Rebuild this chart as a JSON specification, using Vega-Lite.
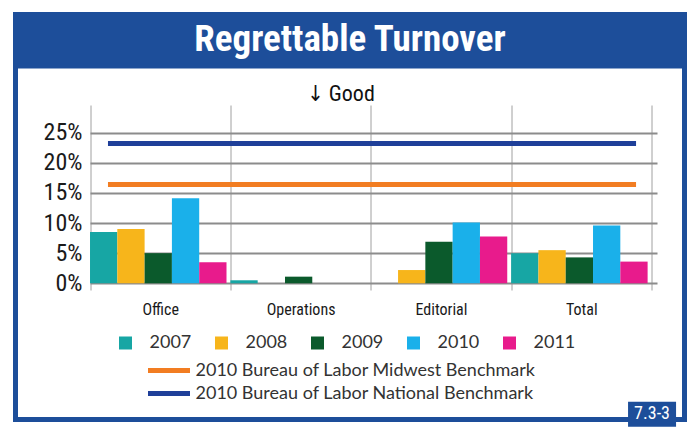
{
  "$schema": "https://vega.github.io/schema/vega-lite/v6.json",
  "background": "white",
  "padding": {"left": 13, "top": 12, "right": 0, "bottom": 0},
  "spacing": 0,
  "bounds": "flush",
  "center": true,
  "config": {"view": {"stroke": null}, "font": "Roboto Condensed, Liberation Sans Narrow, DejaVu Sans Condensed, Liberation Sans, sans-serif"},
  "datasets": {
    "bars": [
      {"category": "Office", "year": "2007", "value": 8.5},
      {"category": "Office", "year": "2008", "value": 9.0},
      {"category": "Office", "year": "2009", "value": 5.0},
      {"category": "Office", "year": "2010", "value": 14.1},
      {"category": "Office", "year": "2011", "value": 3.5},
      {"category": "Operations", "year": "2007", "value": 0.5},
      {"category": "Operations", "year": "2009", "value": 1.1},
      {"category": "Editorial", "year": "2008", "value": 2.2},
      {"category": "Editorial", "year": "2009", "value": 6.9},
      {"category": "Editorial", "year": "2010", "value": 10.1},
      {"category": "Editorial", "year": "2011", "value": 7.75},
      {"category": "Total", "year": "2007", "value": 5.0},
      {"category": "Total", "year": "2008", "value": 5.5},
      {"category": "Total", "year": "2009", "value": 4.3},
      {"category": "Total", "year": "2010", "value": 9.6},
      {"category": "Total", "year": "2011", "value": 3.6}
    ],
    "benchmarks": [
      {"benchmark": "2010 Bureau of Labor Midwest Benchmark", "value": 16.4, "from": "Office", "to": "Total"},
      {"benchmark": "2010 Bureau of Labor National Benchmark", "value": 23.2, "from": "Office", "to": "Total"}
    ],
    "heading": [{"title": "Regrettable Turnover"}],
    "notes": [{"note": "↓ Good"}],
    "tags": [{"tag": "7.3-3"}]
  },
  "vconcat": [
    {
      "width": 674,
      "height": 54,
      "view": {"fill": "#1d4e9a", "stroke": null},
      "data": {"name": "heading"},
      "mark": {"type": "text", "color": "white", "fontSize": 37, "fontWeight": "bold", "dy": 1},
      "encoding": {"text": {"field": "title"}}
    },
    {
      "width": 669,
      "height": 353.5,
      "view": {"fill": "white", "stroke": "#1d4e9a", "strokeWidth": 5},
      "layer": [
        {
          "data": {"name": "bars"},
          "mark": {"type": "bar"},
          "encoding": {
            "x": {
              "field": "category", "type": "nominal", "title": null,
              "scale": {"domain": ["Office", "Operations", "Editorial", "Total"], "paddingInner": 0, "paddingOuter": 0.383, "align": 0.693},
              "axis": {"title": null, "orient": "bottom", "offset": -129.5, "domain": false, "grid": false, "ticks": true, "tickBand": "extent", "tickSize": -185, "tickColor": "#a0a0a0", "tickWidth": 1, "labelPadding": 196, "labelAngle": 0, "labelFontSize": 16, "labelColor": "#1a1a1a", "zindex": 0}
            },
            "xOffset": {
              "field": "year", "type": "nominal",
              "scale": {"domain": ["2007", "2008", "2009", "2010", "2011"], "paddingInner": 0, "paddingOuter": 0.071, "align": 0}
            },
            "y": {
              "field": "value", "type": "quantitative", "title": null,
              "scale": {"domain": [-22.61, 36.07], "nice": false, "zero": false},
              "axis": {"title": null, "values": [0, 5, 10, 15, 20, 25], "offset": -74.5, "domain": false, "grid": false, "ticks": true, "tickSize": -567, "tickColor": "#8c8c8c", "tickWidth": 2, "labelPadding": 575, "labelExpr": "datum.value + '%'", "labelFontSize": 24, "labelColor": "#1a1a1a", "zindex": 0}
            },
            "y2": {"datum": 0},
            "color": {
              "field": "year", "type": "nominal",
              "scale": {"domain": ["2007", "2008", "2009", "2010", "2011"], "range": ["#17a6a4", "#f7b51b", "#0b5a2c", "#1ab0ea", "#e81b8c"]},
              "legend": {"orient": "none", "legendX": 103.5, "legendY": 322, "direction": "horizontal", "title": null, "symbolType": "square", "symbolSize": 169, "symbolStrokeWidth": 0, "labelFont": "Lato", "labelFontSize": 18, "labelColor": "#333333", "labelOffset": 15, "columnPadding": 21, "padding": 0}
            }
          }
        },
        {
          "data": {"name": "benchmarks"},
          "mark": {"type": "rule", "strokeWidth": 5},
          "encoding": {
            "x": {"field": "from", "type": "nominal", "bandPosition": 0.128, "title": null},
            "x2": {"field": "to", "bandPosition": 0.89},
            "y": {"field": "value", "type": "quantitative", "title": null},
            "stroke": {
              "field": "benchmark", "type": "nominal",
              "scale": {"domain": ["2010 Bureau of Labor Midwest Benchmark", "2010 Bureau of Labor National Benchmark"], "range": ["#f27d22", "#1f3f99"]},
              "legend": {"orient": "none", "legendX": 146.5, "legendY": 349, "direction": "vertical", "title": null, "symbolType": "M-3,0H3", "symbolSize": 196, "symbolStrokeWidth": 5, "labelFont": "Lato", "labelFontSize": 18, "labelColor": "#333333", "labelOffset": 17, "labelLimit": 500, "rowPadding": 2, "padding": 0}
            }
          }
        },
        {
          "data": {"name": "notes"},
          "mark": {"type": "text", "fontSize": 22, "color": "#111111", "baseline": "alphabetic", "align": "center"},
          "encoding": {
            "text": {"field": "note"},
            "x": {"datum": "Operations", "bandPosition": 0.788},
            "y": {"datum": 30.26}
          }
        },
        {
          "data": {"name": "tags"},
          "mark": {"type": "rect", "color": "#1d4e9a"},
          "encoding": {
            "x": {"datum": "Total", "bandPosition": 0.833},
            "x2": {"datum": "Total", "bandPosition": 1.175},
            "y": {"datum": -19.65},
            "y2": {"datum": -23.8}
          }
        },
        {
          "data": {"name": "tags"},
          "mark": {"type": "text", "color": "white", "fontSize": 18, "baseline": "middle", "align": "center"},
          "encoding": {
            "text": {"field": "tag"},
            "x": {"datum": "Total", "bandPosition": 1.004},
            "y": {"datum": -21.72}
          }
        }
      ]
    }
  ]
}
